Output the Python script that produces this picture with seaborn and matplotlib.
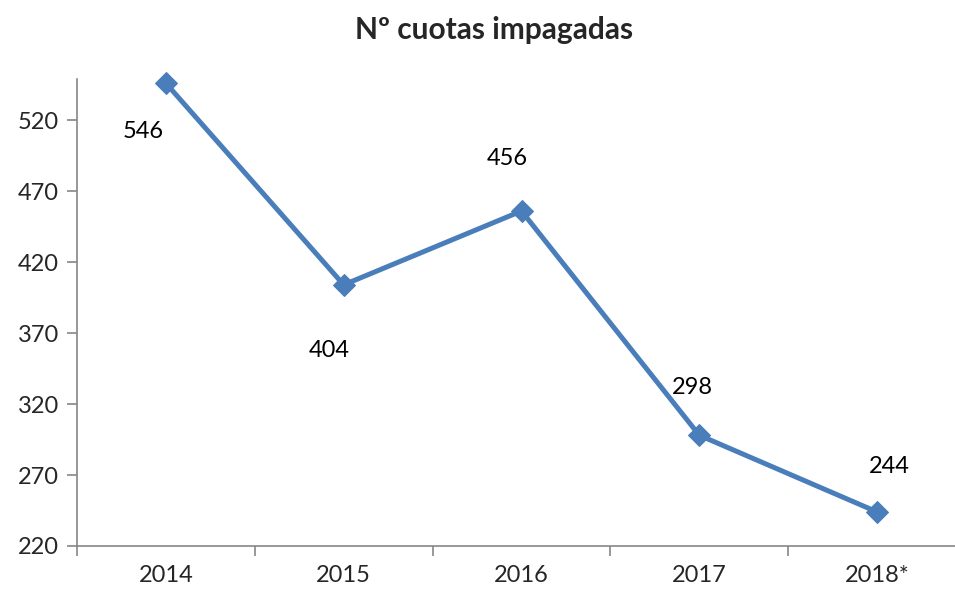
import matplotlib
matplotlib.use("Agg")
import pandas as pd
import seaborn as sns
import matplotlib.pyplot as plt

years = ["2014", "2015", "2016", "2017", "2018*"]
cuotas = [546, 404, 456, 298, 244]
y_ticks = [220, 270, 320, 370, 420, 470, 520]

# pixel offsets for the value labels (as placed in the original)
label_offsets = [(-23, -48), (-14, -66), (-14, 53), (-7, 48), (12, 45)]

sns.set_theme(style="white")
plt.rcParams['font.family'] = ['Lato', 'DejaVu Sans']

df = pd.DataFrame({"year": years, "cuotas": cuotas})

fig = plt.figure(figsize=(9.55, 5.92), dpi=100)
ax = fig.add_axes([77 / 955, 1 - 546 / 592, (966 - 77) / 955, (546 - 79) / 592])

sns.lineplot(data=df, x="year", y="cuotas", ax=ax, color="#4A7EBB", linewidth=3.6,
             marker="D", markersize=11, markeredgecolor="#4A7EBB", sort=False, clip_on=False)

for i, v in enumerate(cuotas):
    dx, dy = label_offsets[i]
    ax.annotate(str(v), (i, v), xytext=(dx * 0.72, dy * 0.72), textcoords="offset points",
                ha="center", va="center", fontsize=17, color="black")

ax.set_xlim(-0.5, len(years) - 0.5)
ax.set_ylim(220, 549)
ax.set_yticks(y_ticks)
ax.set_xticks(range(len(years)))
ax.set_xticklabels(years)
ax.set_xticks([i + 0.5 for i in range(len(years) - 1)] + [-0.5], minor=True)
ax.tick_params(axis="x", which="major", length=0, pad=14, labelsize=17)
ax.tick_params(axis="x", which="minor", length=7, width=1.2, color="#868686", direction="out", bottom=True)
ax.tick_params(axis="y", length=7, width=1.2, color="#868686", direction="out", left=True, labelsize=17, pad=6)
ax.set_xlabel("")
ax.set_ylabel("")

for side in ["top", "right"]:
    ax.spines[side].set_visible(False)
for side in ["left", "bottom"]:
    ax.spines[side].set_color("#868686")
    ax.spines[side].set_linewidth(1.2)

fig.text(494 / 955, 1 - 30 / 592, "Nº cuotas impagadas", ha="center", va="center",
         fontsize=21.5, fontweight="bold")

fig.savefig("out.png", dpi=100, facecolor="white")
